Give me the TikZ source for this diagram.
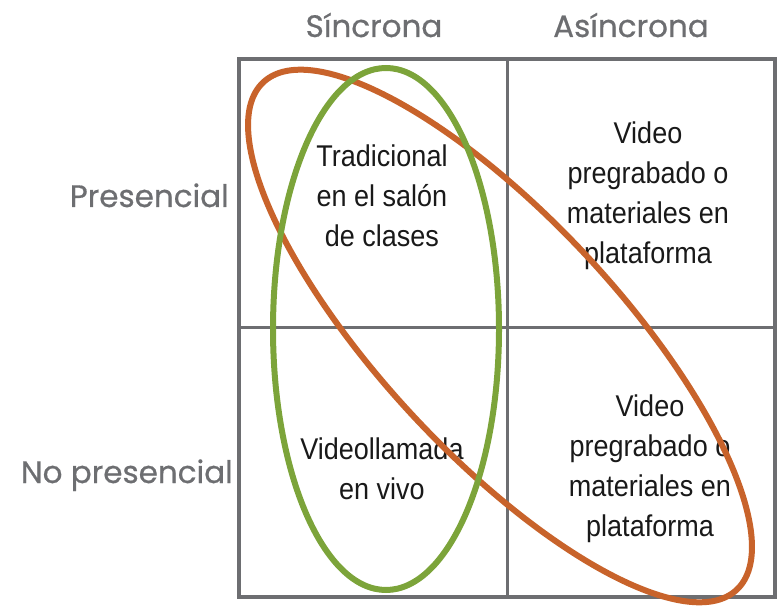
\documentclass[tikz,border=0pt]{standalone}
\usepackage{fontspec}
\newfontfamily\headfont[FakeBold=0.6]{Poppins}
\newfontfamily\cellfont[FakeStretch=0.9]{Liberation Sans}
\definecolor{gridgray}{HTML}{6D6E71}
\definecolor{ovalorange}{HTML}{C8632B}
\definecolor{ovalgreen}{HTML}{7CA43A}
\tikzset{head/.style={text=gridgray,font=\headfont\fontsize{31}{38}\selectfont,inner sep=0pt},
	cell/.style={align=center,font=\cellfont\fontsize{30}{40}\selectfont,text=black!90,inner sep=0pt},
	gridline/.style={draw=gridgray,line width=3pt},
	oval/.style={line width=6pt}}

\begin{document}
\begin{tikzpicture}[x=1pt,y=1pt]
\useasboundingbox (0,0) rectangle (778,605);
% grid
\coordinate (nw) at (239,546);
\coordinate (se) at (775,8);
\coordinate (n) at (507,546);
\coordinate (s) at (507,8);
\coordinate (w) at (239,277);
\coordinate (e) at (775,277);
\draw [gridline,line width=4pt] (nw) rectangle (se);
\draw [gridline] (n) -- (s);
\draw [gridline] (w) -- (e);
% headers
\node [head,anchor=base] (sinc) at (374,568) {Síncrona};
\node [head,anchor=base] (asinc) at (631,568) {Asíncrona};
\node [head,anchor=base east] (pres) at (229,398) {Presencial};
\node [head,anchor=base east] (nopres) at (233,122) {No presencial};
% cells
\node [cell] (trad) at (382,409) {Tradicional\\en el salón\\de clases};
\node [cell] (vidA) at (648,409) {Video\\pregrabado o\\materiales en\\plataforma};
\node [cell] (llam) at (382,136) {Videollamada\\en vivo};
\node [cell] (vidB) at (650,136) {Video\\pregrabado o\\materiales en\\plataforma};
% ovals
\coordinate (oc) at (500,269);
\coordinate (gc) at (386,276);
\draw [oval,ovalorange,rotate around={-47:(oc)}] (oc) ellipse [x radius=347,y radius=118];
\draw [oval,ovalgreen] (gc) ellipse [x radius=113,y radius=261];
\end{tikzpicture}
\end{document}
